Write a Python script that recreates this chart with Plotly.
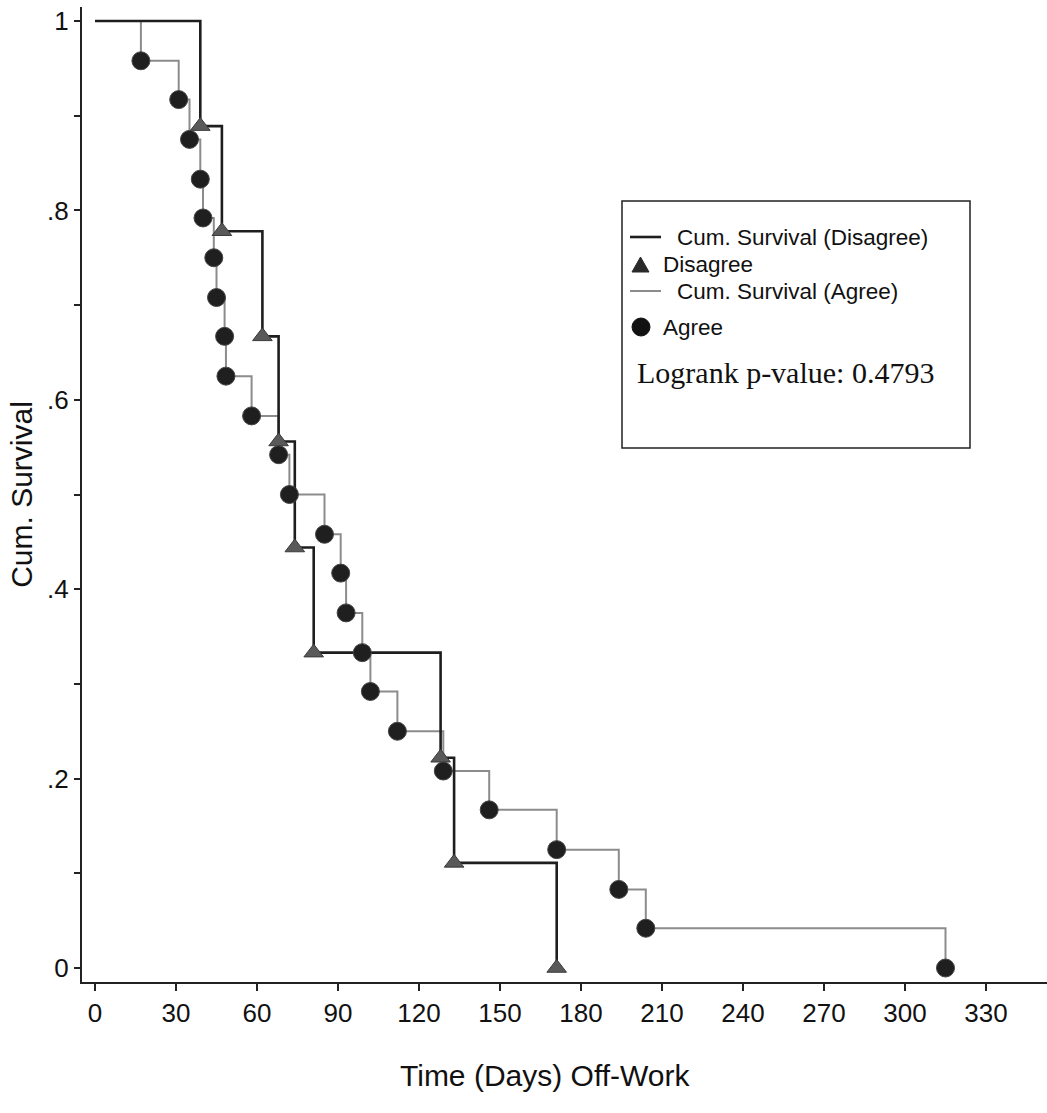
import plotly.graph_objects as go

# ---------------- data ----------------
agree_days = [17, 31, 35, 39, 40, 44, 45, 48, 48.5, 58, 68, 72, 85, 91, 93, 99,
              102, 112, 129, 146, 171, 194, 204, 315]
agree_surv = [0.958, 0.917, 0.875, 0.833, 0.792, 0.750, 0.708, 0.667, 0.625,
              0.583, 0.542, 0.500, 0.458, 0.417, 0.375, 0.333, 0.292, 0.250,
              0.208, 0.167, 0.125, 0.083, 0.042, 0.000]

disagree_days = [39, 47, 62, 68, 74, 81, 128, 133, 171]
disagree_surv = [0.889, 0.778, 0.667, 0.556, 0.444, 0.333, 0.222, 0.111, 0.000]

start_day = [0]
start_surv = [1.0]

x_ticks = [0, 30, 60, 90, 120, 150, 180, 210, 240, 270, 300, 330]
y_tickvals = [0, 0.1, 0.2, 0.3, 0.4, 0.5, 0.6, 0.7, 0.8, 0.9, 1.0]
y_ticktext = ["0", "", ".2", "", ".4", "", ".6", "", ".8", "", "1"]

legend_labels = ["Cum. Survival (Disagree)", "Disagree", "Cum. Survival (Agree)", "Agree"]
logrank_text = "Logrank p-value: 0.4793"
x_title = "Time (Days) Off-Work"
y_title = "Cum. Survival"

# ---------------- figure ----------------
W, H = 1047, 1113
ML, MR, MT, MB = 82, 0, 7, 131
PW, PH = W - ML - MR, H - MT - MB

def px(xp):
    return (xp - ML) / PW

def py(yp):
    return (H - MB - yp) / PH

SANS = "Liberation Sans, Arial, sans-serif"
SERIF = "Liberation Serif, Times New Roman, serif"

fig = go.Figure()

# step lines
fig.add_trace(go.Scatter(
    x=start_day + agree_days, y=start_surv + agree_surv,
    mode="lines", line=dict(shape="hv", color="#8c8c8c", width=2),
    name=legend_labels[2], showlegend=False, hoverinfo="skip"))
fig.add_trace(go.Scatter(
    x=start_day + disagree_days, y=start_surv + disagree_surv,
    mode="lines", line=dict(shape="hv", color="#1e1e1e", width=2.6),
    name=legend_labels[0], showlegend=False, hoverinfo="skip"))

# markers
fig.add_trace(go.Scatter(
    x=disagree_days, y=disagree_surv, mode="markers",
    marker=dict(symbol="triangle-up", size=17, color="#595959",
                line=dict(color="#3a3a3a", width=1)),
    name=legend_labels[1], showlegend=False))
fig.add_trace(go.Scatter(
    x=agree_days, y=agree_surv, mode="markers",
    marker=dict(symbol="circle", size=18, color="#1f1f1f",
                line=dict(color="#444444", width=1)),
    name=legend_labels[3], showlegend=False))

# ---------------- legend box (drawn manually) ----------------
box_l, box_t, box_r, box_b = 622, 201, 970, 448
shapes = [
    dict(type="rect", xref="paper", yref="paper",
         x0=px(box_l), x1=px(box_r), y0=py(box_b), y1=py(box_t),
         line=dict(color="#222222", width=1.5), fillcolor="white", layer="above"),
    dict(type="line", xref="paper", yref="paper",
         x0=px(630), x1=px(661), y0=py(237), y1=py(237),
         line=dict(color="#1e1e1e", width=2.6), layer="above"),
    dict(type="line", xref="paper", yref="paper",
         x0=px(630), x1=px(661), y0=py(291), y1=py(291),
         line=dict(color="#8c8c8c", width=2), layer="above"),
    dict(type="path", xref="paper", yref="paper",
         path=f"M {px(632)} {py(272)} L {px(649)} {py(272)} L {px(640.5)} {py(257)} Z",
         fillcolor="#2a2a2a", line=dict(color="#2a2a2a", width=1), layer="above"),
    dict(type="circle", xref="paper", yref="paper",
         x0=px(632), x1=px(650), y0=py(336), y1=py(318),
         fillcolor="#111111", line=dict(color="#111111", width=1), layer="above"),
]

annotations = []
for label, xs, ys in [(legend_labels[0], 675, 237), (legend_labels[1], 661, 265),
                      (legend_labels[2], 675, 291), (legend_labels[3], 661, 327)]:
    annotations.append(dict(text=label, xref="paper", yref="paper",
                            x=px(xs), y=py(ys), xanchor="left", yanchor="middle",
                            showarrow=False, font=dict(family=SANS, size=22.5, color="#111111")))
annotations.append(dict(text=logrank_text, xref="paper", yref="paper",
                        x=px(635), y=py(372), xanchor="left", yanchor="middle",
                        showarrow=False, font=dict(family=SERIF, size=30, color="#111111")))
# x-axis title (centred where the reference puts it)
annotations.append(dict(text=x_title, xref="paper", yref="paper",
                        x=px(545), y=py(1075), xanchor="center", yanchor="middle",
                        showarrow=False, font=dict(family=SANS, size=30, color="#111111")))

# ---------------- layout ----------------
x0_px, x_scale = 95.0, 2.7   # pixel of day 0, pixels per day
y0_px, y_scale = 968.0, 947.0
x_range = [(ML - x0_px) / x_scale, (W - MR - x0_px) / x_scale]
y_range = [(y0_px - (H - MB)) / y_scale, (y0_px - MT) / y_scale]

fig.update_layout(
    width=W, height=H,
    margin=dict(l=ML, r=MR, t=MT, b=MB, autoexpand=False),
    paper_bgcolor="white", plot_bgcolor="white",
    showlegend=False,
    shapes=shapes, annotations=annotations,
    font=dict(family=SANS, color="#111111"),
)
fig.update_xaxes(
    range=x_range, tickmode="array", tickvals=x_ticks,
    ticktext=[str(v) for v in x_ticks], automargin=False,
    showgrid=False, zeroline=False, showline=True, linecolor="#222222", linewidth=2,
    ticks="outside", ticklen=7, tickwidth=1.5, tickcolor="#222222",
    tickfont=dict(family=SANS, size=26, color="#111111"),
)
fig.update_yaxes(
    range=y_range, tickmode="array", tickvals=y_tickvals, ticktext=y_ticktext,
    automargin=False,
    showgrid=False, zeroline=False, showline=True, linecolor="#222222", linewidth=2,
    ticks="outside", ticklen=6, tickwidth=1.5, tickcolor="#222222",
    tickfont=dict(family=SANS, size=26, color="#111111"),
    title=dict(text=y_title, font=dict(family=SANS, size=30, color="#111111"),
               standoff=6),
)

fig.write_html("out.html", config={"displayModeBar": False},
               post_script="document.body.style.margin='0px';document.body.style.overflow='hidden';")
